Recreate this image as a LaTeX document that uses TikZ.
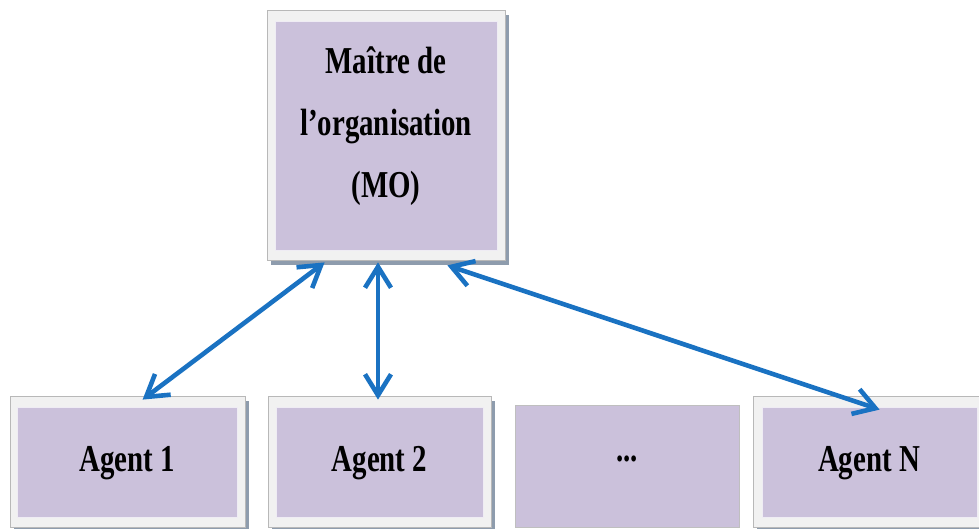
\documentclass[tikz,border=0pt]{standalone}
\usepackage{fontspec}
\setmainfont{Liberation Serif}[FakeStretch=0.76]
\usetikzlibrary{arrows.meta,shadows,calc}
\definecolor{lilac}{HTML}{CBC1DB}
\definecolor{framegray}{HTML}{F1F1F1}
\definecolor{shadowgray}{HTML}{8E9CAD}
\definecolor{linkblue}{HTML}{1A72C2}

\begin{document}
\begin{tikzpicture}[x=1pt,y=-1pt,
  frame/.style={rectangle, draw=black!28, line width=0.8pt, fill=framegray, inner sep=0pt,
    drop shadow={shadow xshift=4pt, shadow yshift=-5pt, fill=shadowgray, opacity=1}},
  panel/.style={rectangle, draw=white!70!lilac, fill=lilac, line width=0.6pt, inner sep=0pt},
  plainpanel/.style={rectangle, draw=black!25, fill=lilac, line width=0.7pt, inner sep=0pt},
  label/.style={font=\bfseries\fontsize{38}{62}\selectfont, align=center, inner sep=0pt},
  tipv/.tip={Straight Barb[length=21pt,width=26pt]},
  link/.style={draw=linkblue, line width=4.6pt, tipv-tipv}
]
\useasboundingbox (0,0) rectangle (979,529);
\clip (0,0) rectangle (979,529);

% master of the organisation
\node[frame, minimum width=238pt, minimum height=250pt] (mo) at (386,135) {};
\node[panel, minimum width=222pt, minimum height=229pt] (mopanel) at (386,135.5) {};
\node[label] (motext) at (386,126) {Maître de\\l’organisation\\(MO)};

% agents
\node[frame, minimum width=235pt, minimum height=131pt] (a1) at (127.5,461.5) {};
\node[panel, minimum width=220pt, minimum height=110pt] (a1panel) at (127,462) {};
\node[label] (a1text) at (127,463) {Agent 1};

\node[frame, minimum width=223pt, minimum height=131pt] (a2) at (379.5,461.5) {};
\node[panel, minimum width=207pt, minimum height=110pt] (a2panel) at (379.5,462) {};
\node[label] (a2text) at (379.5,463) {Agent 2};

\node[plainpanel, minimum width=224pt, minimum height=122pt] (dots) at (627,466) {};
\node[label] (dotstext) at (627,459) {...};

\node[frame, minimum width=232pt, minimum height=131pt] (an) at (869,461.5) {};
\node[panel, minimum width=215pt, minimum height=110pt] (anpanel) at (869.5,462) {};
\node[label] (antext) at (869,463) {Agent N};

% links between the master and the agents
\draw[link] ($(mo.south west)+(58,2)$) -- ($(a1.north west)+(133,4)$);
\draw[link] ($(mo.south)+(-8,2)$) -- ($(a2.north)+(-1.5,4)$);
\draw[link] ($(mo.south east)+(-58,5)$) -- ($(an.north west)+(127,14)$);
\end{tikzpicture}
\end{document}
